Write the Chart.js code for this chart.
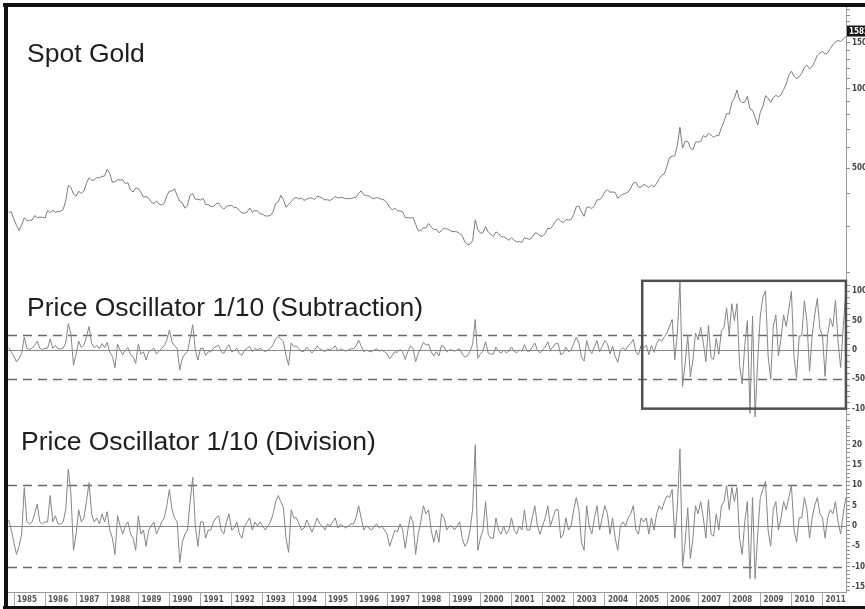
<!DOCTYPE html>
<html>
<head>
<meta charset="utf-8">
<title>Spot Gold - Price Oscillator 1/10</title>
<script src="https://cdn.jsdelivr.net/npm/chart.js@4.4.1/dist/chart.umd.min.js"></script>
<style>
  html, body { margin: 0; padding: 0; background: #fff; }
  #grafico { display: block; }
</style>
</head>
<body>
<canvas id="grafico" width="865" height="609"></canvas>
<script>
// monthly readings, Oct 1984 .. Sep 2011
const startYear = 1984.83;

const goldValues = [
  340, 341, 320,
  303, 290, 304, 324, 316, 317, 317, 330, 324, 326, 325, 323,   // 1985
  345, 339, 346, 340, 342, 343, 348, 376, 430, 423, 398, 391,   // 1986
  408, 401, 409, 438, 460, 450, 450, 461, 460, 465, 467, 495,   // 1987
  477, 442, 444, 452, 451, 452, 437, 440, 413, 406, 420, 419,   // 1988
  404, 388, 390, 384, 371, 367, 375, 365, 362, 367, 393, 409,   // 1989
  410, 417, 393, 374, 369, 352, 362, 395, 400, 381, 381, 378,   // 1990
  384, 364, 363, 358, 357, 366, 368, 356, 349, 358, 360, 361,   // 1991
  354, 354, 345, 338, 337, 341, 353, 340, 345, 344, 335, 334,   // 1992
  329, 329, 330, 342, 367, 372, 394, 379, 355, 364, 373, 383,   // 1993
  387, 382, 384, 377, 381, 385, 385, 380, 391, 389, 384, 379,   // 1994
  379, 377, 382, 391, 385, 387, 386, 383, 383, 383, 386, 387,   // 1995
  400, 410, 396, 393, 392, 385, 383, 387, 383, 381, 378, 369,   // 1996
  355, 347, 352, 344, 344, 341, 324, 324, 323, 325, 306, 289,   // 1997
  289, 297, 296, 308, 299, 292, 293, 284, 289, 296, 294, 291,   // 1998
  287, 287, 286, 282, 277, 262, 256, 257, 265, 318, 293, 283,   // 1999
  284, 300, 286, 280, 275, 286, 282, 275, 274, 270, 266, 272,   // 2000
  266, 262, 263, 261, 272, 270, 268, 273, 283, 283, 276, 276,   // 2001
  282, 296, 294, 303, 314, 322, 314, 310, 319, 317, 319, 333,   // 2002
  357, 359, 341, 328, 355, 356, 351, 360, 379, 379, 389, 407,   // 2003
  414, 405, 406, 404, 384, 392, 398, 401, 406, 420, 439, 442,   // 2004
  424, 423, 434, 429, 422, 431, 424, 438, 456, 470, 476, 510,   // 2005
  549, 555, 557, 610, 715, 596, 633, 632, 598, 586, 628, 629,   // 2006
  631, 665, 655, 679, 667, 655, 665, 665, 713, 754, 806, 803,   // 2007
  889, 922, 990, 909, 888, 890, 939, 839, 830, 780, 730, 816,   // 2008
  858, 943, 924, 890, 928, 946, 934, 949, 996, 1043, 1127, 1170, // 2009
  1117, 1095, 1113, 1148, 1205, 1232, 1193, 1215, 1271, 1343, 1370, 1391, // 2010
  1356, 1372, 1424, 1474, 1510, 1529, 1515, 1550, 1583          // 2011
];

const subValues = [
  4, -3, -11,
  -20, -14, -6, 22, 3, 1, 3, 8, 15, 3, 1, 3,
  3, 19, 3, 8, 2, 2, 3, 12, 45, 28, -26, -7,
  15, 4, 8, 23, 40, 11, 4, 8, 2, 11, 4, 13,
  -4, -11, -30, 10, 0, -8, 0, 4, -8, -11, -23, 10,
  -7, -3, -17, -3, 0, 3, -7, -2, 3, 7, 17, 34,
  14, 7, 3, -34, -14, -7, -3, 20, 43, 0, -17, 3,
  3, -9, -3, -3, 3, 6, 8, -3, -6, 3, 9, -3,
  -1, 3, -6, -9, 0, 3, 6, -3, 3, 0, 3, 0,
  -3, 0, 3, 9, 19, 23, 19, 14, -9, -26, 12, 6,
  7, 2, -3, -2, 5, 0, -5, 0, 7, 2, 0, -3,
  2, 0, 3, 7, -2, 2, 0, -2, 0, 2, 2, 7,
  17, 7, -3, 0, -2, -3, 0, 2, -2, 0, -3, -7,
  -15, -9, -3, -4, 1, -3, -16, -3, 7, 3, -20, -6,
  3, 13, 8, 10, -3, -10, -3, -10, 8, 5, -3, 0,
  0, -2, 0, 2, -7, -12, -10, -2, 10, 52, -14, -7,
  -2, 14, -5, -7, -7, 5, -2, -5, 0, -5, -2, 5,
  -2, -5, 0, -2, 9, -2, -2, 5, 12, 0, -5, 0,
  5, 14, 0, 5, 11, 11, -8, -5, 5, -3, 0, 11,
  22, 12, -12, -19, 16, 0, -6, 6, 16, -3, 6, 16,
  11, -7, 7, -11, -21, 0, 4, 0, 7, 11, 18, -4,
  -8, 8, 4, 8, -8, 8, -4, 11, 19, 15, 23, 29,
  41, 52, -17, 29, 117, -62, -23, 26, -46, -17, 29, 17,
  39, 13, -20, 42, -13, -16, 20, -7, 33, 39, 72, 26,
  79, 50, 79, -25, -58, 8, 50, -108, 58, -114, -17, 58,
  90, 101, -10, -50, 40, 60, -10, 20, 60, 40, 70, 100,
  -12, -48, 24, 24, 84, 48, -36, 24, 60, 88, 36, 24,
  -45, 27, 54, 40, 85, 14, -30, 40, 100
];

const divValues = [
  1.5, -1, -4,
  -7, -5, -2, 9.5, 1, 0.5, 1, 3, 5.4, 1, 0.5, 1,
  1, 7.5, 1, 2.5, 0.5, 0.5, 1, 4, 14, 8, -6, -2,
  4, 1, 2, 6, 10.7, 3, 1, 2, 0.5, 3, 1, 3.5,
  -1, -3, -7, 2.5, 0, -2, 0, 1, -2, -3, -6, 2.5,
  -2, -1, -5, -1, 0, 1, -2, -0.5, 1, 2, 5, 9,
  4, 2, 1, -9, -4, -2, -1, 6, 12, 0, -5, 1,
  1, -3, -1, -1, 1, 2, 2.5, -1, -2, 1, 3, -1,
  -0.5, 1, -2, -3, 0, 1, 2, -1, 1, 0, 1, 0,
  -1, 0, 1, 3, 6, 7.5, 6, 4.5, -3, -6.5, 4, 2,
  2, 0.5, -1, -0.5, 1.5, 0, -1.5, 0, 2, 0.5, 0, -1,
  0.5, 0, 1, 2, -0.5, 0.5, 0, -0.5, 0, 0.5, 0.5, 2,
  5, 2, -1, 0, -0.5, -1, 0, 0.5, -0.5, 0, -1, -2,
  -5, -3, -1, -1.5, 0.5, -1, -5.5, -1, 2.5, 1, -7, -2,
  1, 5, 3, 4, -1, -4, -1, -4, 3, 2, -1, 0,
  0, -1, 0, 1, -3, -5, -4, -1, 4, 20, -6, -3,
  -1, 6, -2, -3, -3, 2, -1, -2, 0, -2, -1, 2,
  -1, -2, 0, -1, 4, -1, -1, 2, 5, 0, -2, 0,
  2, 5, 0, 2, 4, 4, -3, -2, 2, -1, 0, 4,
  7, 4, -4, -6, 5, 0, -2, 2, 5, -1, 2, 5,
  3, -2, 2, -3, -6, 0, 1, 0, 2, 3, 5, -1,
  -2, 2, 1, 2, -2, 2, -1, 3, 5, 4, 6, 7.5,
  7, 9, -3, 5, 19, -10, -4, 4.5, -8, -3, 5, 3,
  6, 2, -3, 6.5, -2, -2.5, 3, -1, 5, 6, 10, 4,
  9.5, 6, 9.5, -3, -7, 1, 6, -13, 7, -13, -2, 7,
  9, 11, -1, -5, 4, 6, -1, 2, 6, 4, 7, 10,
  -1, -4, 2, 2, 7, 4, -3, 2, 5, 7, 3, 2,
  -3, 2, 4, 3, 6, 1, -2, 3, 7
];

const yearTicks = [1985, 1986, 1987, 1988, 1989, 1990, 1991, 1992, 1993, 1994, 1995, 1996, 1997,
  1998, 1999, 2000, 2001, 2002, 2003, 2004, 2005, 2006, 2007, 2008, 2009, 2010, 2011];

const goldTicks = [200, 300, 400, 500, 600, 700, 800, 900, 1000, 1100, 1200, 1300, 1400, 1500,
  1600, 1700, 1800, 1900, 2000];
const goldLabels = [500, 1000, 1500];

const subTicks = [110, 100, 90, 80, 70, 60, 50, 40, 30, 20, 10, 0, -10, -20, -30, -40, -50,
  -60, -70, -80, -90, -100, -110, -120, -130];
const subLabels = [100, 50, 0, -50, -100];

const divTicks = [24, 23, 22, 21, 20, 19, 18, 17, 16, 15, 14, 13, 12, 11, 10, 9, 8, 7, 6, 5, 4, 3,
  2, 1, 0, -1, -2, -3, -4, -5, -6, -7, -8, -9, -10, -11, -12, -13, -14, -15, -16];
const divLabels = [20, 15, 10, 5, 0, -5, -10, -15];

const subLevels = [25, -50];
const divLevels = [10, -10];
const boxYears = [2005.2, 2011.75];
const boxValues = [118, -100];

const panelTitles = ['Spot Gold', 'Price Oscillator 1/10 (Subtraction)', 'Price Oscillator 1/10 (Division)'];

const toPoints = arr => arr.map((v, i) => ({ x: startYear + i / 12, y: v }));

const axisFont = { family: "'Liberation Sans Narrow', 'DejaVu Sans Condensed', sans-serif", size: 8, weight: 'bold' };

function rightAxis(extra) {
  return Object.assign({
    position: 'right',
    stack: 'panels',
    afterFit: s => { s.width = 19; },
    grid: { drawOnChartArea: false, tickLength: 4, color: '#8c8c8c' },
    border: { display: true, color: '#9a9a9a', width: 1 },
    ticks: { autoSkip: false, padding: 2, color: '#444', font: axisFont }
  }, extra);
}

const decor = {
  id: 'decor',
  beforeDatasetsDraw(chart) {
    const { ctx, chartArea: a, scales } = chart;
    const hline = (scale, v) => {
      const y = Math.round(scale.getPixelForValue(v)) + 0.5;
      ctx.beginPath();
      ctx.moveTo(a.left, y);
      ctx.lineTo(a.right, y);
      ctx.stroke();
    };
    ctx.save();
    ctx.strokeStyle = '#8a8a8a';
    ctx.lineWidth = 1.2;
    hline(scales.ySub, 0);
    hline(scales.yDiv, 0);
    ctx.setLineDash([9, 6]);
    ctx.strokeStyle = '#6a6a6a';
    ctx.lineWidth = 1.4;
    subLevels.forEach(v => hline(scales.ySub, v));
    divLevels.forEach(v => hline(scales.yDiv, v));
    ctx.restore();
  },
  afterDatasetsDraw(chart) {
    const { ctx, scales } = chart;
    ctx.save();
    // highlight box on the subtraction panel
    const x0 = scales.x.getPixelForValue(boxYears[0]);
    const x1 = scales.x.getPixelForValue(boxYears[1]);
    const y0 = scales.ySub.getPixelForValue(boxValues[0]);
    const y1 = scales.ySub.getPixelForValue(boxValues[1]);
    ctx.strokeStyle = '#505050';
    ctx.lineWidth = 2.5;
    ctx.strokeRect(x0, y0, x1 - x0, y1 - y0);

    // last price tag
    const last = goldValues[goldValues.length - 1];
    const ly = scales.yGold.getPixelForValue(last) - 5;
    ctx.fillStyle = '#151515';
    ctx.fillRect(847, ly - 6, 20, 11);
    ctx.fillStyle = '#fff';
    ctx.font = "bold 8px 'Liberation Sans Narrow', 'DejaVu Sans Condensed', sans-serif";
    ctx.textBaseline = 'middle';
    ctx.fillText(String(last), 849, ly);

    // panel titles
    ctx.fillStyle = '#1e1e1e';
    ctx.font = "26.5px 'Liberation Sans', Arial, sans-serif";
    ctx.textBaseline = 'alphabetic';
    ctx.fillText(panelTitles[0], 27, 62);
    ctx.fillText(panelTitles[1], 27, 316);
    ctx.fillText(panelTitles[2], 21, 450);
    ctx.restore();
  },
  afterDraw(chart) {
    const { ctx } = chart;
    ctx.save();
    ctx.fillStyle = '#111';
    ctx.fillRect(3, 3, 862, 4);
    ctx.fillRect(4, 3, 4, 606);
    ctx.fillRect(3, 606, 862, 3);
    ctx.restore();
  }
};

const lineStyle = { borderWidth: 1, pointRadius: 0, tension: 0, fill: false, xAxisID: 'x' };

new Chart(document.getElementById('grafico').getContext('2d'), {
  type: 'line',
  data: {
    datasets: [
      Object.assign({ label: 'Spot Gold', data: toPoints(goldValues), borderColor: '#7c7c7c', yAxisID: 'yGold' }, lineStyle),
      Object.assign({ label: 'Subtraction', data: toPoints(subValues), borderColor: '#858585', yAxisID: 'ySub' }, lineStyle),
      Object.assign({ label: 'Division', data: toPoints(divValues), borderColor: '#858585', yAxisID: 'yDiv' }, lineStyle)
    ]
  },
  options: {
    responsive: false,
    animation: false,
    layout: { padding: { left: 8, top: 7, right: 0, bottom: 3 } },
    plugins: { legend: { display: false }, tooltip: { enabled: false } },
    scales: {
      x: {
        type: 'linear',
        position: 'bottom',
        min: 1984.807,
        max: 2011.752,
        afterBuildTicks: s => { s.ticks = yearTicks.map(v => ({ value: v })); },
        afterFit: s => { s.height = 14; },
        grid: { drawOnChartArea: false, tickLength: 14, color: '#a8a8a8' },
        border: { display: true, color: '#9a9a9a' },
        ticks: {
          autoSkip: false, maxRotation: 0, minRotation: 0,
          align: 'start', labelOffset: 3, padding: -11,
          color: '#555', font: axisFont,
          callback: v => String(v)
        }
      },
      yGold: rightAxis({
        type: 'logarithmic',
        stackWeight: 273,
        min: 187.8,
        max: 2050,
        afterBuildTicks: s => { s.ticks = goldTicks.map(v => ({ value: v })); },
        ticks: { autoSkip: false, padding: 2, color: '#444', font: axisFont,
          callback: v => goldLabels.includes(v) ? String(v) : '' }
      }),
      ySub: rightAxis({
        type: 'linear',
        stackWeight: 147,
        min: -131.3,
        max: 119.4,
        afterBuildTicks: s => { s.ticks = subTicks.map(v => ({ value: v })); },
        ticks: { autoSkip: false, padding: 2, color: '#444', font: axisFont,
          callback: v => subLabels.includes(v) ? String(v) : '' }
      }),
      yDiv: rightAxis({
        type: 'linear',
        stackWeight: 165,
        min: -16.27,
        max: 24.4,
        afterBuildTicks: s => { s.ticks = divTicks.map(v => ({ value: v })); },
        ticks: { autoSkip: false, padding: 2, color: '#444', font: axisFont,
          callback: v => divLabels.includes(v) ? String(v) : '' }
      })
    }
  },
  plugins: [decor]
});
</script>
</body>
</html>
